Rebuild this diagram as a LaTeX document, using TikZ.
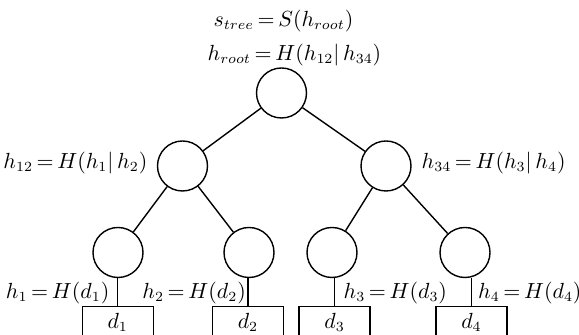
\documentclass[tikz,border=0pt]{standalone}
\usepackage{tikz}
\usetikzlibrary{positioning}

\begin{document}
\thickmuskip=3mu plus 2mu\relax
\begin{tikzpicture}[x=0.5pt, y=-0.5pt, line width=0.7pt,
    font=\fontsize{10.5}{12.5}\selectfont,
    hashnode/.style={circle, draw, minimum size=25pt, inner sep=0pt},
    datablock/.style={draw, anchor=north, minimum width=35.5pt, text height=9pt, text depth=30pt, inner ysep=2pt, inner xsep=0pt},
    hlabel/.style={inner sep=0pt}]
  \useasboundingbox (0,0) rectangle (579,335);
  \clip (0,0) rectangle (579,335);
  % tree of hashes
  \node[hashnode] (root) at (281.5,93) {};
  \node[hashnode] (n12) at (182.5,166) {};
  \node[hashnode] (n34) at (386,166) {};
  \node[hashnode] (n1) at (118,252.5) {};
  \node[hashnode] (n2) at (249,252.5) {};
  \node[hashnode] (n3) at (332,252.5) {};
  \node[hashnode] (n4) at (465,252.5) {};
  \draw (root) -- (n12);
  \draw (root) -- (n34);
  \draw (n12) -- (n1);
  \draw (n12) -- (n2);
  \draw (n34) -- (n3);
  \draw (n34) -- (n4);
  % data blocks
  \node[datablock] (d1) at (117.7,306) {$d_1$};
  \node[datablock] (d2) at (248,306) {$d_2$};
  \node[datablock] (d3) at (334.6,306) {$d_3$};
  \node[datablock] (d4) at (471.5,306) {$d_4$};
  \foreach \i in {1,...,4}
    \draw (d\i.north) -- (d\i.north |- n\i.south);
  % labels
  \node[hlabel] (stree) at (283.5,21) {$s_{tree} = S(h_{root})$};
  \node[hlabel] (hroot) at (294.5,55) {$h_{root} = H(h_{12}|\, h_{34})$};
  \node[hlabel, anchor=east] (h12) at (148,163) {$h_{12} = H(h_1|\, h_2)$};
  \node[hlabel, anchor=west] (h34) at (421,163) {$h_{34} = H(h_3|\, h_4)$};
  \node[hlabel, anchor=east] (h1) at (110,293) {$h_1 = H(d_1)$};
  \node[hlabel, anchor=east] (h2) at (246.5,293) {$h_2 = H(d_2)$};
  \node[hlabel, anchor=west] (h3) at (343,293) {$h_3 = H(d_3)$};
  \node[hlabel, anchor=west] (h4) at (477.5,293) {$h_4 = H(d_4)$};
\end{tikzpicture}
\end{document}
